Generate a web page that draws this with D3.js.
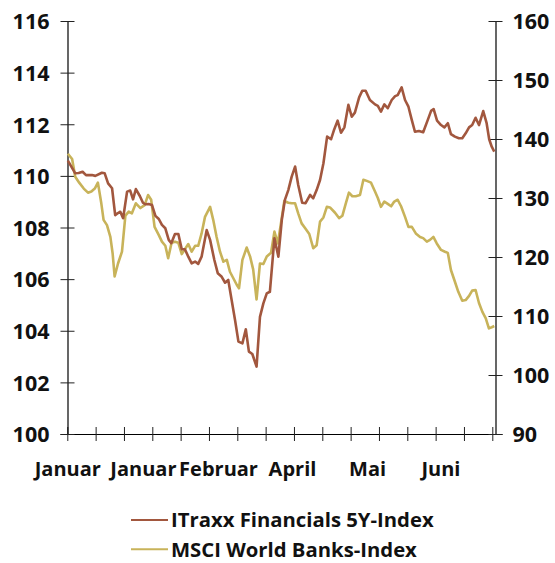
<!DOCTYPE html>
<html><head><meta charset="utf-8">
<script src="https://cdn.jsdelivr.net/npm/d3@7/dist/d3.min.js"></script>
<style>
html,body{margin:0;padding:0;background:#fff;}
svg{display:block;}
text{font-family:"Open Sans",sans-serif;font-weight:700;fill:#111;}
</style></head><body>
<svg id="chart" width="555" height="563"></svg>
<script>
// ---- data ----
const itraxxDays = [0.2,2.8,4.0,5.4,6.6,8.7,9.9,12.2,13.2,14.4,15.8,16.9,17.9,18.7,19.7,21.1,22.2,23.2,24.2,25.6,26.7,27.5,28.7,29.9,31.1,32.3,33.4,34.6,35.8,36.7,38.0,39.2,40.4,41.5,42.7,43.9,45.1,46.2,47.4,49.2,50.4,51.9,53.1,54.5,55.7,56.8,58.0,59.2,60.4,61.8,63.0,64.1,65.3,66.8,68.0,69.2,70.4,71.5,73.1,74.5,75.7,76.8,78.0,79.2,80.4,81.5,82.9,84.1,85.7,86.8,88.0,89.2,90.4,91.7,93.1,94.2,95.4,96.6,97.8,99.2,100.4,101.5,103.0,104.1,105.3,106.8,108.6,109.6,110.7,111.9,113.1,114.5,115.7,116.6,118.0,119.2,120.4,121.6,122.7,124.1,125.6,127.2,128.4,129.3,130.5,131.9,133.1,134.3,135.4,136.8,138.2,139.4,140.6,141.8,142.9,144.1,145.3,146.8,148.0,148.9,149.8,150.7];
const itraxxValues = [110.59,110.10,110.11,110.16,110.03,110.03,110.00,110.12,110.10,109.71,109.52,108.48,108.56,108.61,108.36,109.39,109.43,109.09,109.49,109.22,108.96,108.90,108.91,108.87,108.45,108.33,108.10,107.97,107.52,107.39,107.75,107.75,107.16,107.16,106.87,106.61,106.68,106.59,106.87,107.90,107.52,106.74,106.23,106.09,105.86,105.97,105.19,104.42,103.58,103.51,104.06,103.19,103.10,102.61,104.54,105.06,105.45,105.51,107.58,106.87,108.29,109.07,109.45,109.97,110.36,109.65,108.96,108.94,109.26,109.13,109.45,109.84,110.49,111.52,111.42,111.80,112.14,111.67,111.88,112.75,112.29,112.45,113.04,113.30,113.30,112.94,112.77,112.71,112.49,112.77,112.62,112.94,113.09,113.13,113.43,112.94,112.68,112.16,111.71,111.74,111.69,112.16,112.52,112.59,112.14,111.97,111.88,112.04,111.62,111.52,111.46,111.46,111.65,111.88,111.97,112.25,111.97,112.51,112.04,111.42,111.13,110.94];
const msciDays = [0.2,1.7,2.8,4.2,5.8,7.3,8.5,9.7,10.8,12.0,12.8,14.0,15.2,16.0,16.7,17.9,19.3,20.5,21.7,22.8,24.2,25.8,27.3,28.5,29.6,30.8,32.3,33.4,34.6,35.6,36.8,38.0,39.2,40.4,41.5,42.7,43.9,45.1,46.2,47.4,48.6,50.4,51.5,52.7,53.9,55.1,56.3,57.4,58.6,59.8,60.6,61.8,63.3,64.5,65.6,66.8,68.0,69.2,70.4,71.9,73.1,74.3,75.4,76.6,78.0,79.2,80.4,81.5,82.7,83.9,85.4,86.8,88.0,89.2,90.4,91.6,92.7,94.5,95.9,97.1,98.3,99.4,100.6,101.8,103.3,104.5,105.7,107.2,108.6,109.6,110.7,111.9,113.1,114.3,115.4,116.6,117.8,119.2,120.4,121.6,123.0,124.5,125.6,126.9,128.0,129.2,130.4,131.9,133.3,134.3,135.4,136.6,138.0,139.4,140.6,141.8,142.9,144.1,145.3,146.5,147.7,148.8,149.8,150.7];
const msciValues = [137.5,136.6,133.6,132.6,131.6,130.9,131.1,131.6,132.6,129.1,126.3,125.4,123.4,120.6,116.7,118.9,120.9,127.0,127.7,127.4,129.1,128.3,128.8,130.5,129.7,125.1,123.7,122.6,121.9,119.8,122.4,122.6,122.4,120.5,121.3,122.2,120.9,121.9,121.9,124.0,126.8,128.5,126.3,123.4,120.9,119.2,119.5,117.5,116.4,115.3,114.7,119.5,121.6,120.1,117.9,112.8,118.9,118.8,120.1,120.7,124.3,122.3,125.7,129.5,129.2,129.1,129.1,127.4,125.7,124.9,123.9,121.5,122.0,126.0,126.7,128.5,128.4,127.5,126.6,127.0,129.1,130.9,130.3,130.3,130.5,133.1,132.9,132.6,131.1,130.0,128.5,129.4,129.0,128.6,129.4,129.7,128.6,126.8,125.1,125.1,124.0,123.4,123.2,122.6,122.9,123.4,122.3,121.2,120.9,120.7,117.8,116.1,114.1,112.6,112.7,113.4,114.3,114.4,112.2,110.7,109.6,107.9,108.1,108.3];
const leftTicks = [100,102,104,106,108,110,112,114,116];
const rightTicks = [90,100,110,120,130,140,150,160];
const xTickDays = [0,10,20,30,40,50,60,70,80,90,100,110,120,130,140,150];
const monthLabels = ["Januar","Januar","Februar","April","Mai","Juni"];
const monthLabelDays = [0,26.7,53.2,79.3,105.8,131.7];
const seriesNames = ["ITraxx Financials 5Y-Index","MSCI World Banks-Index"];
const seriesColors = ["#a2573e","#c8b35a"];

// ---- layout ----
const svg = d3.select("#chart");
const plotLeft = 67.5, plotRight = 495.5, plotTop = 21, plotBottom = 434;
const x = d3.scaleLinear().domain([0,150]).range([67.3,492.3]);
const yL = d3.scaleLinear().domain([100,116]).range([plotBottom, plotTop]);
const yR = d3.scaleLinear().domain([90,160]).range([plotBottom, plotTop]);

function styleAxis(g, size){
  g.selectAll("path.domain").attr("stroke","#000").attr("stroke-width",1.2);
  g.selectAll(".tick line").attr("stroke","#222").attr("stroke-width",1);
  g.selectAll(".tick text").style("font-size",size+"px").attr("fill","#111");
}

// x axis (ticks crossing)
const gx = svg.append("g").attr("transform",`translate(0,${plotBottom})`)
  .call(d3.axisBottom(x).tickValues(xTickDays).tickSize(7).tickSizeOuter(0).tickFormat(""));
gx.select("path.domain").attr("d",`M${plotLeft-7},0.5H${plotRight+7}`);
gx.selectAll(".tick line").attr("y1",-7).attr("y2",7);
styleAxis(gx, 20);

// month labels
const gm = svg.append("g").attr("transform",`translate(0,${plotBottom})`)
  .call(d3.axisBottom(x).tickValues(monthLabelDays).tickSize(0)
    .tickFormat((d,i)=>monthLabels[i]));
gm.select("path.domain").remove();
gm.selectAll(".tick text").attr("dy",0).attr("y",42);
styleAxis(gm, 20);

// left axis
const gl = svg.append("g").attr("transform",`translate(${plotLeft},0)`)
  .call(d3.axisLeft(yL).tickValues(leftTicks).tickSize(7).tickSizeOuter(0));
gl.selectAll(".tick line").attr("x1",-7).attr("x2",7);
gl.selectAll(".tick text").attr("x",-18).attr("dy","0.36em");
styleAxis(gl, 21.5);

// right axis
const gr = svg.append("g").attr("transform",`translate(${plotRight},0)`)
  .call(d3.axisRight(yR).tickValues(rightTicks).tickSize(7).tickSizeOuter(0));
gr.selectAll(".tick line").attr("x1",-7).attr("x2",7);
gr.selectAll(".tick text").attr("x",17).attr("dy","0.36em");
styleAxis(gr, 21.5);

// lines
const itraxx = itraxxDays.map((d,i)=>({d, v: itraxxValues[i]}));
const msci = msciDays.map((d,i)=>({d, v: msciValues[i]}));
svg.append("path").datum(msci)
  .attr("fill","none").attr("stroke",seriesColors[1]).attr("stroke-width",2.6)
  .attr("stroke-linejoin","round")
  .attr("d", d3.line().x(p=>x(p.d)).y(p=>yR(p.v)));
svg.append("path").datum(itraxx)
  .attr("fill","none").attr("stroke",seriesColors[0]).attr("stroke-width",2.6)
  .attr("stroke-linejoin","round")
  .attr("d", d3.line().x(p=>x(p.d)).y(p=>yL(p.v)));

// legend
const lg = svg.append("g");
seriesNames.forEach((name,i)=>{
  const yy = 520 + i*29.3;
  lg.append("line").attr("x1",131).attr("x2",168).attr("y1",yy).attr("y2",yy)
    .attr("stroke",seriesColors[i]).attr("stroke-width",2);
  lg.append("text").attr("x",171).attr("y",yy+7.2).style("font-size","20.3px").text(name);
});
</script>
</body></html>
